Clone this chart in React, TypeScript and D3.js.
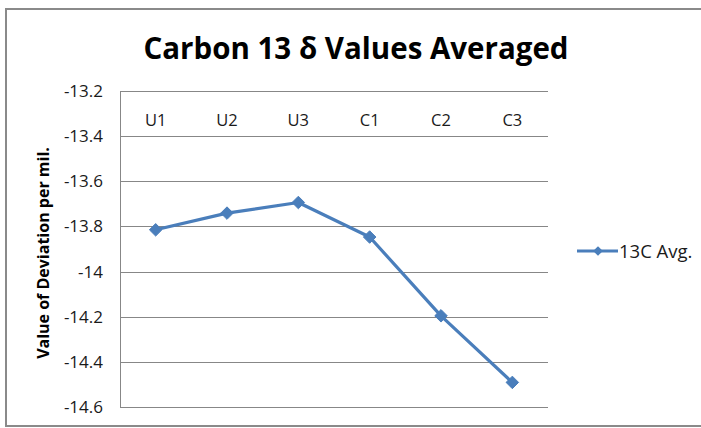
import React, { useEffect, useRef } from 'react';
import * as d3 from 'd3';

const categories = ['U1', 'U2', 'U3', 'C1', 'C2', 'C3'];
const avgValues = [-13.815, -13.741, -13.694, -13.847, -14.196, -14.491];
const yTicks = [-13.2, -13.4, -13.6, -13.8, -14, -14.2, -14.4, -14.6];
const seriesName = '13C Avg.';

const W = 701;
const H = 428;
const BLUE = '#4a7ebb';
const FONT = "'Open Sans', 'Noto Sans', sans-serif";

const CarbonChart: React.FC = () => {
    const ref = useRef<SVGSVGElement>(null);

    useEffect(() => {
        const svg = d3.select(ref.current);
        svg.selectAll('*').remove();

        const margin = { top: 91, right: 153, bottom: 21, left: 120 };
        const innerW = W - margin.left - margin.right;
        const innerH = H - margin.top - margin.bottom;

        // chart area frame
        svg.append('rect')
            .attr('x', 6).attr('y', 9)
            .attr('width', W + 10).attr('height', H - 11)
            .attr('fill', '#fff')
            .attr('stroke', '#8a8a8a')
            .attr('stroke-width', 2);

        svg.append('text')
            .attr('x', 356).attr('y', 59)
            .attr('text-anchor', 'middle')
            .attr('font-family', FONT)
            .attr('font-weight', 'bold')
            .attr('font-size', 29.5)
            .attr('fill', '#000')
            .text('Carbon 13 δ Values Averaged');

        const g = svg.append('g').attr('transform', `translate(${margin.left},${margin.top})`);

        const x = d3.scaleBand<string>().domain(categories).range([0, innerW]);
        const y = d3.scaleLinear().domain([-13.2, -14.6]).range([0, innerH]);

        // gridlines
        g.selectAll('.grid')
            .data(yTicks)
            .enter()
            .append('line')
            .attr('x1', 0).attr('x2', innerW)
            .attr('y1', d => Math.round(y(d)) + 0.5)
            .attr('y2', d => Math.round(y(d)) + 0.5)
            .attr('stroke', '#878787')
            .attr('stroke-width', 1);

        // value axis
        const yAxis = g.append('g')
            .call(d3.axisLeft(y).tickValues(yTicks).tickSize(0).tickPadding(17).tickFormat(d => String(d)));
        yAxis.select('.domain').attr('stroke', '#878787');
        yAxis.selectAll('text')
            .attr('font-family', FONT)
            .attr('font-size', 17)
            .attr('fill', '#1a1a1a');

        // category labels sit under the top edge (all values negative)
        g.selectAll('.cat')
            .data(categories)
            .enter()
            .append('text')
            .attr('x', d => (x(d) ?? 0) + x.bandwidth() / 2)
            .attr('y', 35)
            .attr('text-anchor', 'middle')
            .attr('font-family', FONT)
            .attr('font-size', 16.5)
            .attr('fill', '#1a1a1a')
            .text(d => d);

        const pts = categories.map((c, i) => ({ c, v: avgValues[i] }));
        const line = d3.line<{ c: string; v: number }>()
            .x(d => (x(d.c) ?? 0) + x.bandwidth() / 2)
            .y(d => y(d.v));

        g.append('path')
            .datum(pts)
            .attr('d', line)
            .attr('fill', 'none')
            .attr('stroke', BLUE)
            .attr('stroke-width', 3.2)
            .attr('stroke-linejoin', 'round');

        const diamond = d3.symbol().type(d3.symbolDiamond2).size(100);
        g.selectAll('.pt')
            .data(pts)
            .enter()
            .append('path')
            .attr('d', diamond)
            .attr('transform', d => `translate(${(x(d.c) ?? 0) + x.bandwidth() / 2},${y(d.v)})`)
            .attr('fill', BLUE)
            .attr('stroke', BLUE)
            .attr('stroke-width', 1);

        // y axis title
        svg.append('text')
            .attr('transform', 'translate(49,253) rotate(-90)')
            .attr('text-anchor', 'middle')
            .attr('font-family', FONT)
            .attr('font-weight', 'bold')
            .attr('font-size', 16)
            .attr('fill', '#000')
            .text('Value of Deviation per mil.');

        // legend
        const lg = svg.append('g').attr('transform', 'translate(577,251)');
        lg.append('line')
            .attr('x1', 0).attr('x2', 41)
            .attr('y1', 0).attr('y2', 0)
            .attr('stroke', BLUE)
            .attr('stroke-width', 3);
        lg.append('path')
            .attr('d', d3.symbol().type(d3.symbolDiamond2).size(60))
            .attr('transform', 'translate(21,0)')
            .attr('fill', BLUE);
        lg.append('text')
            .attr('x', 42).attr('y', 7)
            .attr('font-family', FONT)
            .attr('font-size', 18.5)
            .attr('fill', '#1a1a1a')
            .text(seriesName);
    }, []);

    return <svg ref={ref} width={W} height={H} style={{ position: 'absolute', left: 0, top: 0 }}></svg>;
};

export default function App() {
    return <CarbonChart />;
}
